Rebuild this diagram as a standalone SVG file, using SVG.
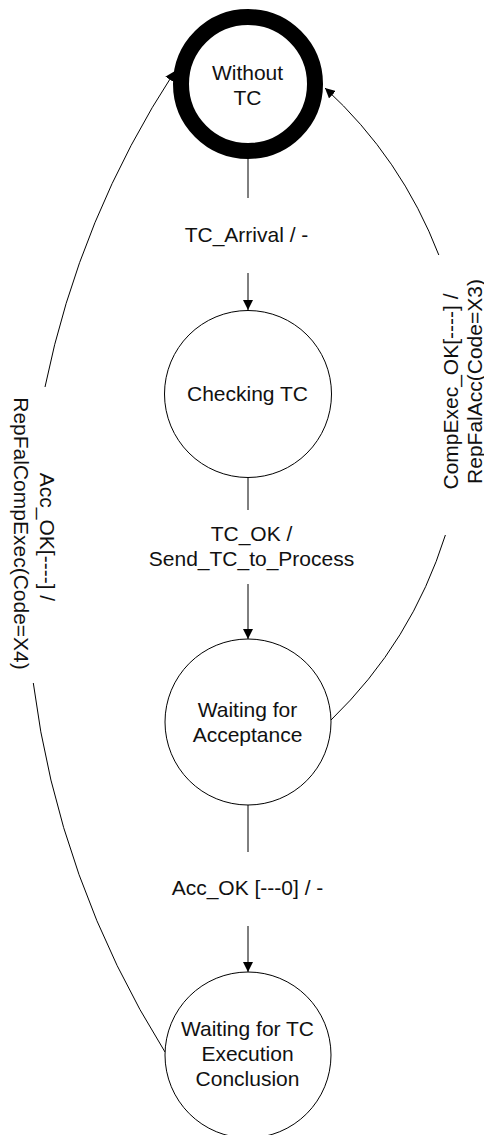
<svg xmlns="http://www.w3.org/2000/svg" width="484" height="1135" viewBox="0 0 484 1135">
  <style>
    .state { fill: #ffffff; stroke: #000000; stroke-width: 1; }
    .initial { fill: #ffffff; stroke: #000000; stroke-width: 16; }
    .label { font-family: "Liberation Sans", Arial, sans-serif; font-size: 21px; fill: #111111; text-anchor: middle; }
    .edge { fill: none; stroke: #000000; stroke-width: 1; }
  </style>
  <defs>
    <marker id="arrow" viewBox="0 0 10 10" refX="10" refY="5" markerWidth="10" markerHeight="10" markerUnits="userSpaceOnUse" orient="auto">
      <path d="M0,0 L10,5 L0,10 z" fill="#000000"/>
    </marker>
  </defs>

  <!-- transitions -->
  <g id="connectors">
    <!-- Without TC -> Checking TC -->
    <line class="edge" x1="248" y1="159" x2="248" y2="198"/>
    <line class="edge" x1="248" y1="273" x2="248" y2="310" marker-end="url(#arrow)"/>
    <text class="label" x="246.5" y="242">TC_Arrival / -</text>

    <!-- Checking TC -> Waiting for Acceptance -->
    <line class="edge" x1="248" y1="477" x2="248" y2="510"/>
    <line class="edge" x1="248" y1="584" x2="248" y2="639" marker-end="url(#arrow)"/>
    <text class="label" x="251.5" y="541">TC_OK /</text>
    <text class="label" x="251.5" y="566">Send_TC_to_Process</text>

    <!-- Waiting for Acceptance -> Waiting for TC Execution Conclusion -->
    <line class="edge" x1="248" y1="805" x2="248" y2="852"/>
    <line class="edge" x1="248" y1="926" x2="248" y2="972" marker-end="url(#arrow)"/>
    <text class="label" x="247.5" y="895">Acc_OK [---0] / -</text>

    <!-- Waiting for TC Execution Conclusion -> Without TC (left arc) -->
    <path class="edge" d="M165,1052 A909,909 0 0 1 33.3,683"/>
    <path class="edge" d="M45,387 A909,909 0 0 1 175,71" marker-end="url(#arrow)"/>
    <text class="label" transform="translate(40,537) rotate(90)">Acc_OK[----] /</text>
    <text class="label" transform="translate(14,533.5) rotate(90)">RepFalCompExec(Code=X4)</text>

    <!-- Waiting for Acceptance -> Without TC (right arc) -->
    <path class="edge" d="M331,720 A442,442 0 0 0 445.4,535"/>
    <path class="edge" d="M438.8,255 A442,442 0 0 0 325,88" marker-end="url(#arrow)"/>
    <text class="label" transform="translate(458,391.5) rotate(-90)">CompExec_OK[----] /</text>
    <text class="label" transform="translate(482,381.5) rotate(-90)">RepFalAcc(Code=X3)</text>
  </g>

  <!-- states -->
  <g id="without-tc">
    <circle class="initial" cx="248" cy="84" r="67"/>
    <text class="label" x="247.5" y="80">Without</text>
    <text class="label" x="247.5" y="105">TC</text>
  </g>
  <g id="checking-tc">
    <circle class="state" cx="248" cy="394" r="83.5"/>
    <text class="label" x="247.5" y="401">Checking TC</text>
  </g>
  <g id="waiting-acceptance">
    <circle class="state" cx="248" cy="722" r="83"/>
    <text class="label" x="247.5" y="716.5">Waiting for</text>
    <text class="label" x="247.5" y="741.5">Acceptance</text>
  </g>
  <g id="waiting-execution">
    <circle class="state" cx="248" cy="1055" r="83"/>
    <text class="label" x="247.5" y="1036">Waiting for TC</text>
    <text class="label" x="247.5" y="1061">Execution</text>
    <text class="label" x="247.5" y="1086">Conclusion</text>
  </g>
</svg>
